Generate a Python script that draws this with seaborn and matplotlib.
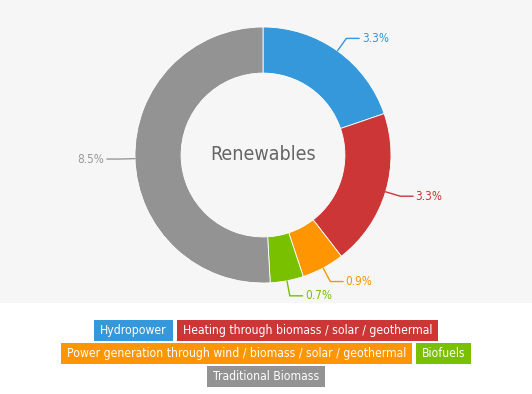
import numpy as np
import matplotlib
matplotlib.use("Agg")
import matplotlib.pyplot as plt
import matplotlib.patches as mpatches
import seaborn as sns

categories = ["Hydropower", "Heating through biomass / solar / geothermal",
              "Power generation through wind / biomass / solar / geothermal",
              "Biofuels", "Traditional Biomass"]
shares = [3.3, 3.3, 0.9, 0.7, 8.5]
share_labels = ["3.3%", "3.3%", "0.9%", "0.7%", "8.5%"]
title = "Renewables"

colors = sns.color_palette(["#3498db", "#cc3637", "#ff9500", "#78c000", "#939393"])
label_colors = ["#3498db", "#cc3637", "#ff9500", "#78c000", "#999999"]

sns.set_theme(style="white")
plt.rcParams["font.family"] = ["DejaVu Sans"]
plt.rcParams["font.stretch"] = "condensed"

W, H = 532, 394
fig = plt.figure(figsize=(W / 100, H / 100), dpi=100)
fig.patch.set_facecolor("white")

# plot area (dotted band in the original, flat light grey here)
top_h = 303
ax = fig.add_axes([0, (H - top_h) / H, 1, top_h / H])

R = 128.0
cx, cy = 263, 155
wedges, _ = ax.pie(shares, colors=colors, startangle=90, counterclock=False,
                   radius=1, wedgeprops=dict(width=0.36, edgecolor="white", linewidth=0.6))
ax.set_xlim(-cx / R, (W - cx) / R)
ax.set_ylim(-(top_h - cy) / R, cy / R)
ax.set_aspect("equal")
ax.set_frame_on(True)
ax.set_facecolor("#f6f6f6")
for s in ax.spines.values():
    s.set_visible(False)
ax.set_xticks([])
ax.set_yticks([])

ax.text(0, 0, title, ha="center", va="center", fontsize=14, color="#666666")

# leader lines + value labels
for w, lab, c in zip(wedges, share_labels, label_colors):
    ang = np.deg2rad((w.theta1 + w.theta2) / 2)
    x0, y0 = np.cos(ang), np.sin(ang)
    x1, y1 = 1.12 * x0, 1.12 * y0
    side = 1 if x1 >= 0 else -1
    x2 = x1 + side * 0.1
    ax.plot([x0, x1, x2], [y0, y1, y1], color=c, lw=1)
    ax.text(x2 + side * 0.02, y1, lab, ha="left" if side > 0 else "right",
            va="center", color=c, fontsize=8.5)

# legend: coloured boxes, wrapped into centred rows
fig.canvas.draw()
renderer = fig.canvas.get_renderer()
pad_x, gap, box_h, row_pitch = 6, 4, 21, 23
leg_fs = 8.7
widths = []
for name in categories:
    t = fig.text(0, 0, name, fontsize=leg_fs)
    widths.append(t.get_window_extent(renderer).width + 2 * pad_x)
    t.remove()

rows, cur, cur_w = [], [], 0
for i, bw in enumerate(widths):
    need = bw if not cur else cur_w + gap + bw
    if cur and need > 470:
        rows.append(cur)
        cur, cur_w = [i], bw
    else:
        cur.append(i)
        cur_w = need
rows.append(cur)

row_y0 = 320
for r, idxs in enumerate(rows):
    total = sum(widths[i] for i in idxs) + gap * (len(idxs) - 1)
    x = (W - total) / 2
    ytop = row_y0 + r * row_pitch
    for i in idxs:
        rect = mpatches.Rectangle((x / W, 1 - (ytop + box_h) / H), widths[i] / W, box_h / H,
                                  transform=fig.transFigure, facecolor=colors[i],
                                  edgecolor="none")
        fig.patches.append(rect)
        fig.text((x + widths[i] / 2) / W, 1 - (ytop + box_h / 2) / H, categories[i],
                 ha="center", va="center", fontsize=leg_fs, color="white")
        x += widths[i] + gap

fig.savefig("out.png", dpi=100)
